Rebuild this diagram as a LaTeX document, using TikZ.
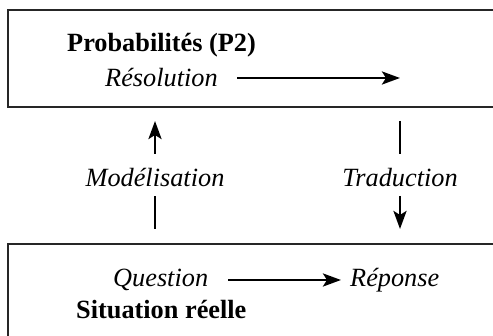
\documentclass[tikz,border=0pt]{standalone}
\usepackage{fontspec}
\setmainfont{Liberation Serif}
\usetikzlibrary{arrows.meta}
\begin{document}
\begin{tikzpicture}[x=1pt,y=-1pt,
  lbl/.style={font=\fontsize{26.3}{28}\selectfont\itshape, inner sep=0pt},
  ttl/.style={font=\fontsize{26.3}{28}\selectfont\bfseries, inner sep=0pt},
  frame/.style={line width=1.6pt, draw=black!85},
  arr/.style={line width=2.8pt, -{Stealth[length=18pt,width=13pt,inset=4pt]}},
  seg/.style={line width=2.8pt}]
\useasboundingbox (0,0) rectangle (493,336);
% boxes
\draw[frame] (493,10) -- (8,10) -- (8,107) -- (493,107);
\draw[frame] (493,244) -- (8,244) -- (8,340);
% top box
\node[ttl, anchor=west] (prob) at (67,45) {Probabilités (P2)};
\node[lbl, anchor=west] (reso) at (105,78) {Résolution};
\coordinate (resoEnd) at (400,78);
\draw[arr] (237,78) -- (resoEnd);
% bottom box
\node[lbl, anchor=west] (quest) at (113,280) {Question};
\node[lbl, anchor=west] (rep) at (350,280) {Réponse};
\draw[arr, shorten >=9pt] (228,280) -- (rep.west);
\node[ttl, anchor=west] (sit) at (76,310) {Situation réelle};
% modelisation
\node[lbl] (mod) at (155,178) {Modélisation};
\coordinate (modTop) at (155,121);
\coordinate (modBot) at (155,229);
\draw[arr] (155,154) -- (modTop);
\draw[seg] (modBot) -- (155,196);
% traduction
\node[lbl] (trad) at (400,178) {Traduction};
\coordinate (tradTop) at (400,121);
\coordinate (tradBot) at (400,229);
\draw[seg] (tradTop) -- (400,154);
\draw[arr] (400,196) -- (tradBot);
\end{tikzpicture}
\end{document}
